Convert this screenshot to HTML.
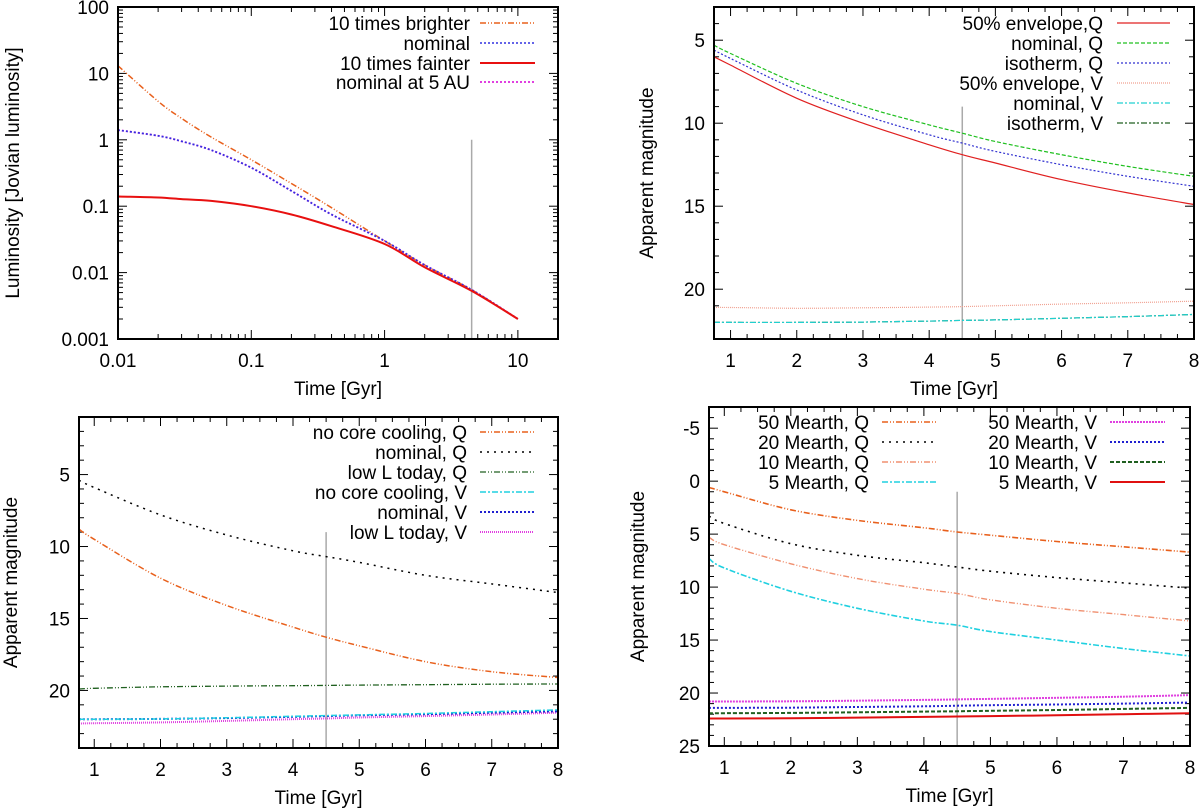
<!DOCTYPE html>
<html><head><meta charset="utf-8"><style>
html,body{margin:0;padding:0;background:#fff}
svg{display:block;font-family:"Liberation Sans",sans-serif}
</style></head><body>
<svg id="fig" width="1200" height="809" viewBox="0 0 1200 809" xmlns="http://www.w3.org/2000/svg"></svg>
<script>
// ---- Panel A data (luminosity, log-log) ----
const aTimes = [0.01,0.02,0.03,0.05,0.1,0.2,0.4,1,2,4.5,10];
const aBright = [13,3.8,2.1,1.1,0.5,0.22,0.095,0.03,0.013,0.0055,0.002];
const aNominal = [1.4,1.15,0.95,0.7,0.38,0.17,0.075,0.03,0.013,0.0055,0.002];
const aFaint = [0.14,0.135,0.128,0.12,0.1,0.075,0.05,0.027,0.012,0.0053,0.002];
const a5AU = [1.4,1.15,0.95,0.7,0.38,0.17,0.075,0.03,0.013,0.0055,0.002];
const aXTicks = [0.01,0.1,1,10];
const aXTickLabels = ["0.01","0.1","1","10"];
const aYTicks = [0.001,0.01,0.1,1,10,100];
const aYTickLabels = ["0.001","0.01","0.1","1","10","100"];
// ---- Panel B data ----
const bTimes = [0.75,1,2,3,4,4.5,5,6,7,8];
const bEnvQ = [6.0,6.5,8.5,10.0,11.3,11.9,12.4,13.4,14.2,14.9];
const bNomQ = [5.3,5.8,7.6,9.0,10.1,10.6,11.1,11.9,12.6,13.2];
const bIsoQ = [5.6,6.1,8.0,9.5,10.7,11.2,11.7,12.5,13.2,13.8];
const bEnvV = [21.1,21.1,21.15,21.12,21.08,21.05,21.0,20.9,20.82,20.72];
const bNomV = [22.0,22.0,22.0,21.98,21.92,21.88,21.85,21.75,21.65,21.52];
const bIsoV = [22.0,22.0,22.0,21.98,21.92,21.88,21.85,21.75,21.65,21.52];
// ---- Panel C data ----
const cTimes = [0.77,1,2,3,4,4.5,5,6,7,8];
const cNoCoreQ = [8.8,9.5,12.2,14.1,15.6,16.3,16.9,18.0,18.7,19.1];
const cNomQ = [5.4,5.9,7.8,9.2,10.3,10.7,11.1,12.0,12.6,13.2];
const cLowQ = [19.9,19.85,19.75,19.7,19.67,19.65,19.63,19.6,19.57,19.55];
const cNoCoreV = [22.0,22.0,21.98,21.9,21.8,21.75,21.7,21.6,21.48,21.35];
const cNomV = [22.0,22.0,21.98,21.92,21.83,21.78,21.73,21.65,21.55,21.45];
const cLowV = [22.3,22.28,22.22,22.12,22.0,21.95,21.88,21.78,21.67,21.55];
// ---- Panel D data ----
const dTimes = [0.77,1,2,3,4,4.5,5,6,7,8];
const d50Q = [0.6,1.0,2.7,3.7,4.4,4.8,5.1,5.7,6.2,6.7];
const d20Q = [3.3,4.0,5.9,7.0,7.7,8.1,8.5,9.1,9.6,10.1];
const d10Q = [5.3,6.0,7.8,9.2,10.2,10.6,11.2,12.0,12.6,13.2];
const d5Q = [7.3,8.2,10.4,12.0,13.2,13.6,14.2,15.0,15.8,16.5];
const d50V = [20.8,20.8,20.78,20.72,20.65,20.6,20.55,20.45,20.35,20.2];
const d20V = [21.4,21.4,21.38,21.32,21.25,21.2,21.15,21.08,21.0,20.9];
const d10V = [21.9,21.9,21.88,21.82,21.75,21.72,21.68,21.6,21.5,21.4];
const d5V = [22.4,22.4,22.38,22.32,22.25,22.22,22.18,22.1,22.0,21.9];
const linXTicks = [1,2,3,4,5,6,7,8];
const bYTicks = [5,10,15,20];
const cYTicks = [5,10,15,20];
const dYTicks = [-5,0,5,10,15,20,25];

const NS="http://www.w3.org/2000/svg";
const svg=document.getElementById('fig');
const FS=19;
function mk(tag,attrs,parent){const e=document.createElementNS(NS,tag);for(const k in attrs)e.setAttribute(k,attrs[k]);(parent||svg).appendChild(e);return e;}
function txt(s,x,y,anchor,size,parent,rot){const t=mk('text',{x:x,y:y,'text-anchor':anchor,'font-size':size||FS,fill:'#000'},parent);if(rot)t.setAttribute('transform',rot);t.textContent=s;return t;}
function smooth(pts){
  let d='M'+pts[0][0].toFixed(1)+','+pts[0][1].toFixed(1);
  for(let i=0;i<pts.length-1;i++){
    const p0=pts[Math.max(0,i-1)],p1=pts[i],p2=pts[i+1],p3=pts[Math.min(pts.length-1,i+2)];
    const c1=[p1[0]+(p2[0]-p0[0])/6,p1[1]+(p2[1]-p0[1])/6];
    const c2=[p2[0]-(p3[0]-p1[0])/6,p2[1]-(p3[1]-p1[1])/6];
    d+='C'+c1[0].toFixed(1)+','+c1[1].toFixed(1)+' '+c2[0].toFixed(1)+','+c2[1].toFixed(1)+' '+p2[0].toFixed(1)+','+p2[1].toFixed(1);
  }
  return d;
}

function panel(cfg){
  const g=mk('g',{});
  
  
  const L=cfg.L,R=cfg.R,T=cfg.T,B=cfg.B;
  const sx=cfg.log?
    v=>L+(Math.log10(v)-Math.log10(cfg.x0))/(Math.log10(cfg.x1)-Math.log10(cfg.x0))*(R-L):
    v=>L+(v-cfg.x0)/(cfg.x1-cfg.x0)*(R-L);
  const sy=cfg.log?
    v=>B-(Math.log10(v)-Math.log10(cfg.y0))/(Math.log10(cfg.y1)-Math.log10(cfg.y0))*(B-T):
    v=>T+(v-cfg.y0)/(cfg.y1-cfg.y0)*(B-T);
  const tg=mk('g',{stroke:'#000','stroke-width':1},g);
  
  
  function xt(v,len){const x=sx(v);mk('line',{x1:x,y1:B,x2:x,y2:B-len},tg);mk('line',{x1:x,y1:T,x2:x,y2:T+len},tg);}
  function yt(v,len){const y=sy(v);mk('line',{x1:L,y1:y,x2:L+len,y2:y},tg);mk('line',{x1:R,y1:y,x2:R-len,y2:y},tg);}
  if(cfg.log){
    for(let d=-2;d<=1;d++)for(let m=1;m<10;m++){const v=m*Math.pow(10,d);if(v>=cfg.x0&&v<=cfg.x1)xt(v,m==1?9:5);}
    for(let d=-3;d<=1;d++)for(let m=1;m<10;m++){const v=m*Math.pow(10,d);if(v>=cfg.y0&&v<=cfg.y1)yt(v,m==1?9:5);}
    yt(100,9);
  } else {
    for(let v=0;v<=cfg.x1+1e-6;v+=0.25){if(v>=cfg.x0)xt(v,Math.abs(v-Math.round(v))<1e-6?9:5);}
    const ya=Math.min(cfg.y0,cfg.y1),yb=Math.max(cfg.y0,cfg.y1);
    for(let v=Math.ceil(ya);v<=yb;v++)yt(v,v%5==0?9:5);
  }
  cfg.xTicks.forEach((v,i)=>{const t=txt(cfg.xLabels?cfg.xLabels[i]:String(v),sx(v),B+28,'middle',FS,g);});
  cfg.yTicks.forEach((v,i)=>{const t=txt(cfg.yLabels?cfg.yLabels[i]:String(v),L-9,sy(v)+7,'end',FS,g);});
  const xtitle=txt('Time [Gyr]',(L+R)/2,B+56,'middle',FS,g);
  
  const ytitle=txt(cfg.yTitle,0,0,'middle',FS,g,'translate('+cfg.ytx+','+(T+B)/2+') rotate(-90)');
  
  const gl=mk('line',{x1:sx(4.5),x2:sx(4.5),y1:sy(cfg.grayTop),y2:B,stroke:'#aaa','stroke-width':1.5},g);
  
  cfg.series.forEach(s=>{
    const pts=s.y.map((v,i)=>[sx(s.x[i]),sy(v)]);
    const p=mk('path',{d:smooth(pts),fill:'none',stroke:s.c,'stroke-width':s.w||1.3,'stroke-dasharray':s.dash||'none'},g);
    
    
  });
  const fr=mk('rect',{x:L,y:T,width:R-L,height:B-T,fill:'none',stroke:'#000','stroke-width':2},g);
  
  cfg.series.forEach(s=>{
    if(!s.lg)return;
    const [tx,sx0,sx1,y]=s.lg;
    const lt=txt(s.label,tx,y+7,'end',FS,g);
    
    const ln=mk('line',{x1:sx0,x2:sx1,y1:y,y2:y,stroke:s.c,'stroke-width':s.w||1.3,'stroke-dasharray':s.dash||'none'},g);
    
  });
}
const DD='6,2,1,2,1,2', DOT='2,2', DASH='4,2', DDOT='6,2,2,2';

panel({name:'luminosity-panel',log:true,L:118,R:558,T:7,B:339,x0:0.01,x1:20,y0:0.001,y1:100,
  xTicks:aXTicks,xLabels:aXTickLabels,yTicks:aYTicks,yLabels:aYTickLabels,yTitle:'Luminosity [Jovian luminosity]',ytx:19,grayTop:1,
  series:[
   {id:'series-10x-brighter',x:aTimes,y:aBright,c:'#e8601c',dash:DD,w:1.5,label:'10 times brighter',lg:[470,480,535,23]},
   {id:'series-nominal-5au',x:aTimes,y:a5AU,c:'#e040e0',dash:DOT,w:2,label:'nominal at 5 AU',lg:[470,480,535,82]},
   {id:'series-nominal',x:aTimes,y:aNominal,c:'#3030e0',dash:DOT,w:1.6,label:'nominal',lg:[470,480,535,43]},
   {id:'series-10x-fainter',x:aTimes,y:aFaint,c:'#e81010',w:2,label:'10 times fainter',lg:[470,480,535,63]}
  ]});

panel({name:'mass-envelope-panel',L:714,R:1194,T:7,B:339,x0:0.75,x1:8,y0:3,y1:23,
  xTicks:linXTicks,yTicks:bYTicks,yTitle:'Apparent magnitude',ytx:653,grayTop:9,
  series:[
   {id:'series-50pct-envelope-q',x:bTimes,y:bEnvQ,c:'#e02020',w:1.2,label:'50% envelope,Q',lg:[1103,1117,1170,23]},
   {id:'series-nominal-q',x:bTimes,y:bNomQ,c:'#20c020',dash:DASH,w:1.2,label:'nominal, Q',lg:[1103,1117,1170,43]},
   {id:'series-isotherm-q',x:bTimes,y:bIsoQ,c:'#3030d0',dash:DOT,w:1.2,label:'isotherm, Q',lg:[1103,1117,1170,63]},
   {id:'series-50pct-envelope-v',x:bTimes,y:bEnvV,c:'#f0a090',dash:'1,1',w:1.2,label:'50% envelope, V',lg:[1103,1117,1170,83]},
   {id:'series-isotherm-v',x:bTimes,y:bIsoV,c:'#206020',dash:DDOT,w:1.2,label:'isotherm, V',lg:[1103,1117,1170,123]},
   {id:'series-nominal-v',x:bTimes,y:bNomV,c:'#20d0d0',dash:'6,2,2,2',w:1.2,label:'nominal, V',lg:[1103,1117,1170,103]}
  ]});

panel({name:'core-cooling-panel',L:79,R:558,T:417,B:748,x0:0.77,x1:8,y0:1,y1:24,
  xTicks:linXTicks,yTicks:cYTicks,yTitle:'Apparent magnitude',ytx:17,grayTop:9,
  series:[
   {id:'series-no-core-cooling-q',x:cTimes,y:cNoCoreQ,c:'#e8601c',dash:DD,w:1.5,label:'no core cooling, Q',lg:[467,480,534,432]},
   {id:'series-nominal-q',x:cTimes,y:cNomQ,c:'#000',dash:'2,5',w:1.5,label:'nominal, Q',lg:[467,480,534,452]},
   {id:'series-low-l-q',x:cTimes,y:cLowQ,c:'#206020',dash:DD,w:1.3,label:'low L today, Q',lg:[467,480,534,472]},
   {id:'series-low-l-v',x:cTimes,y:cLowV,c:'#e040e0',dash:'1,1',w:2,label:'low L today, V',lg:[467,480,534,532]},
   {id:'series-nominal-v',x:cTimes,y:cNomV,c:'#2020d0',dash:DOT,w:2,label:'nominal, V',lg:[467,480,534,512]},
   {id:'series-no-core-cooling-v',x:cTimes,y:cNoCoreV,c:'#20d0e0',dash:'6,2,2,2',w:1.5,label:'no core cooling, V',lg:[467,480,534,492]}
  ]});

panel({name:'planet-mass-panel',L:709,R:1190,T:407,B:746,x0:0.77,x1:8,y0:-7,y1:25,
  xTicks:linXTicks,yTicks:dYTicks,yTitle:'Apparent magnitude',ytx:644,grayTop:1,
  series:[
   {id:'series-50-mearth-q',x:dTimes,y:d50Q,c:'#e8601c',dash:DD,w:1.6,label:'50 Mearth, Q',lg:[869,882,938,422]},
   {id:'series-20-mearth-q',x:dTimes,y:d20Q,c:'#000',dash:'2,5',w:1.6,label:'20 Mearth, Q',lg:[869,882,938,442]},
   {id:'series-10-mearth-q',x:dTimes,y:d10Q,c:'#f09070',dash:DD,w:1.4,label:'10 Mearth, Q',lg:[869,882,938,462]},
   {id:'series-5-mearth-q',x:dTimes,y:d5Q,c:'#20d0e0',dash:'6,2,2,2',w:1.6,label:'5 Mearth, Q',lg:[869,882,938,482]},
   {id:'series-50-mearth-v',x:dTimes,y:d50V,c:'#e040e0',dash:'2,1',w:2,label:'50 Mearth, V',lg:[1097,1110,1165,422]},
   {id:'series-20-mearth-v',x:dTimes,y:d20V,c:'#2020d0',dash:DOT,w:2,label:'20 Mearth, V',lg:[1097,1110,1165,442]},
   {id:'series-10-mearth-v',x:dTimes,y:d10V,c:'#206020',dash:DASH,w:2,label:'10 Mearth, V',lg:[1097,1110,1165,462]},
   {id:'series-5-mearth-v',x:dTimes,y:d5V,c:'#e01010',w:2,label:'5 Mearth, V',lg:[1097,1110,1165,482]}
  ]});
</script>
</body></html>
